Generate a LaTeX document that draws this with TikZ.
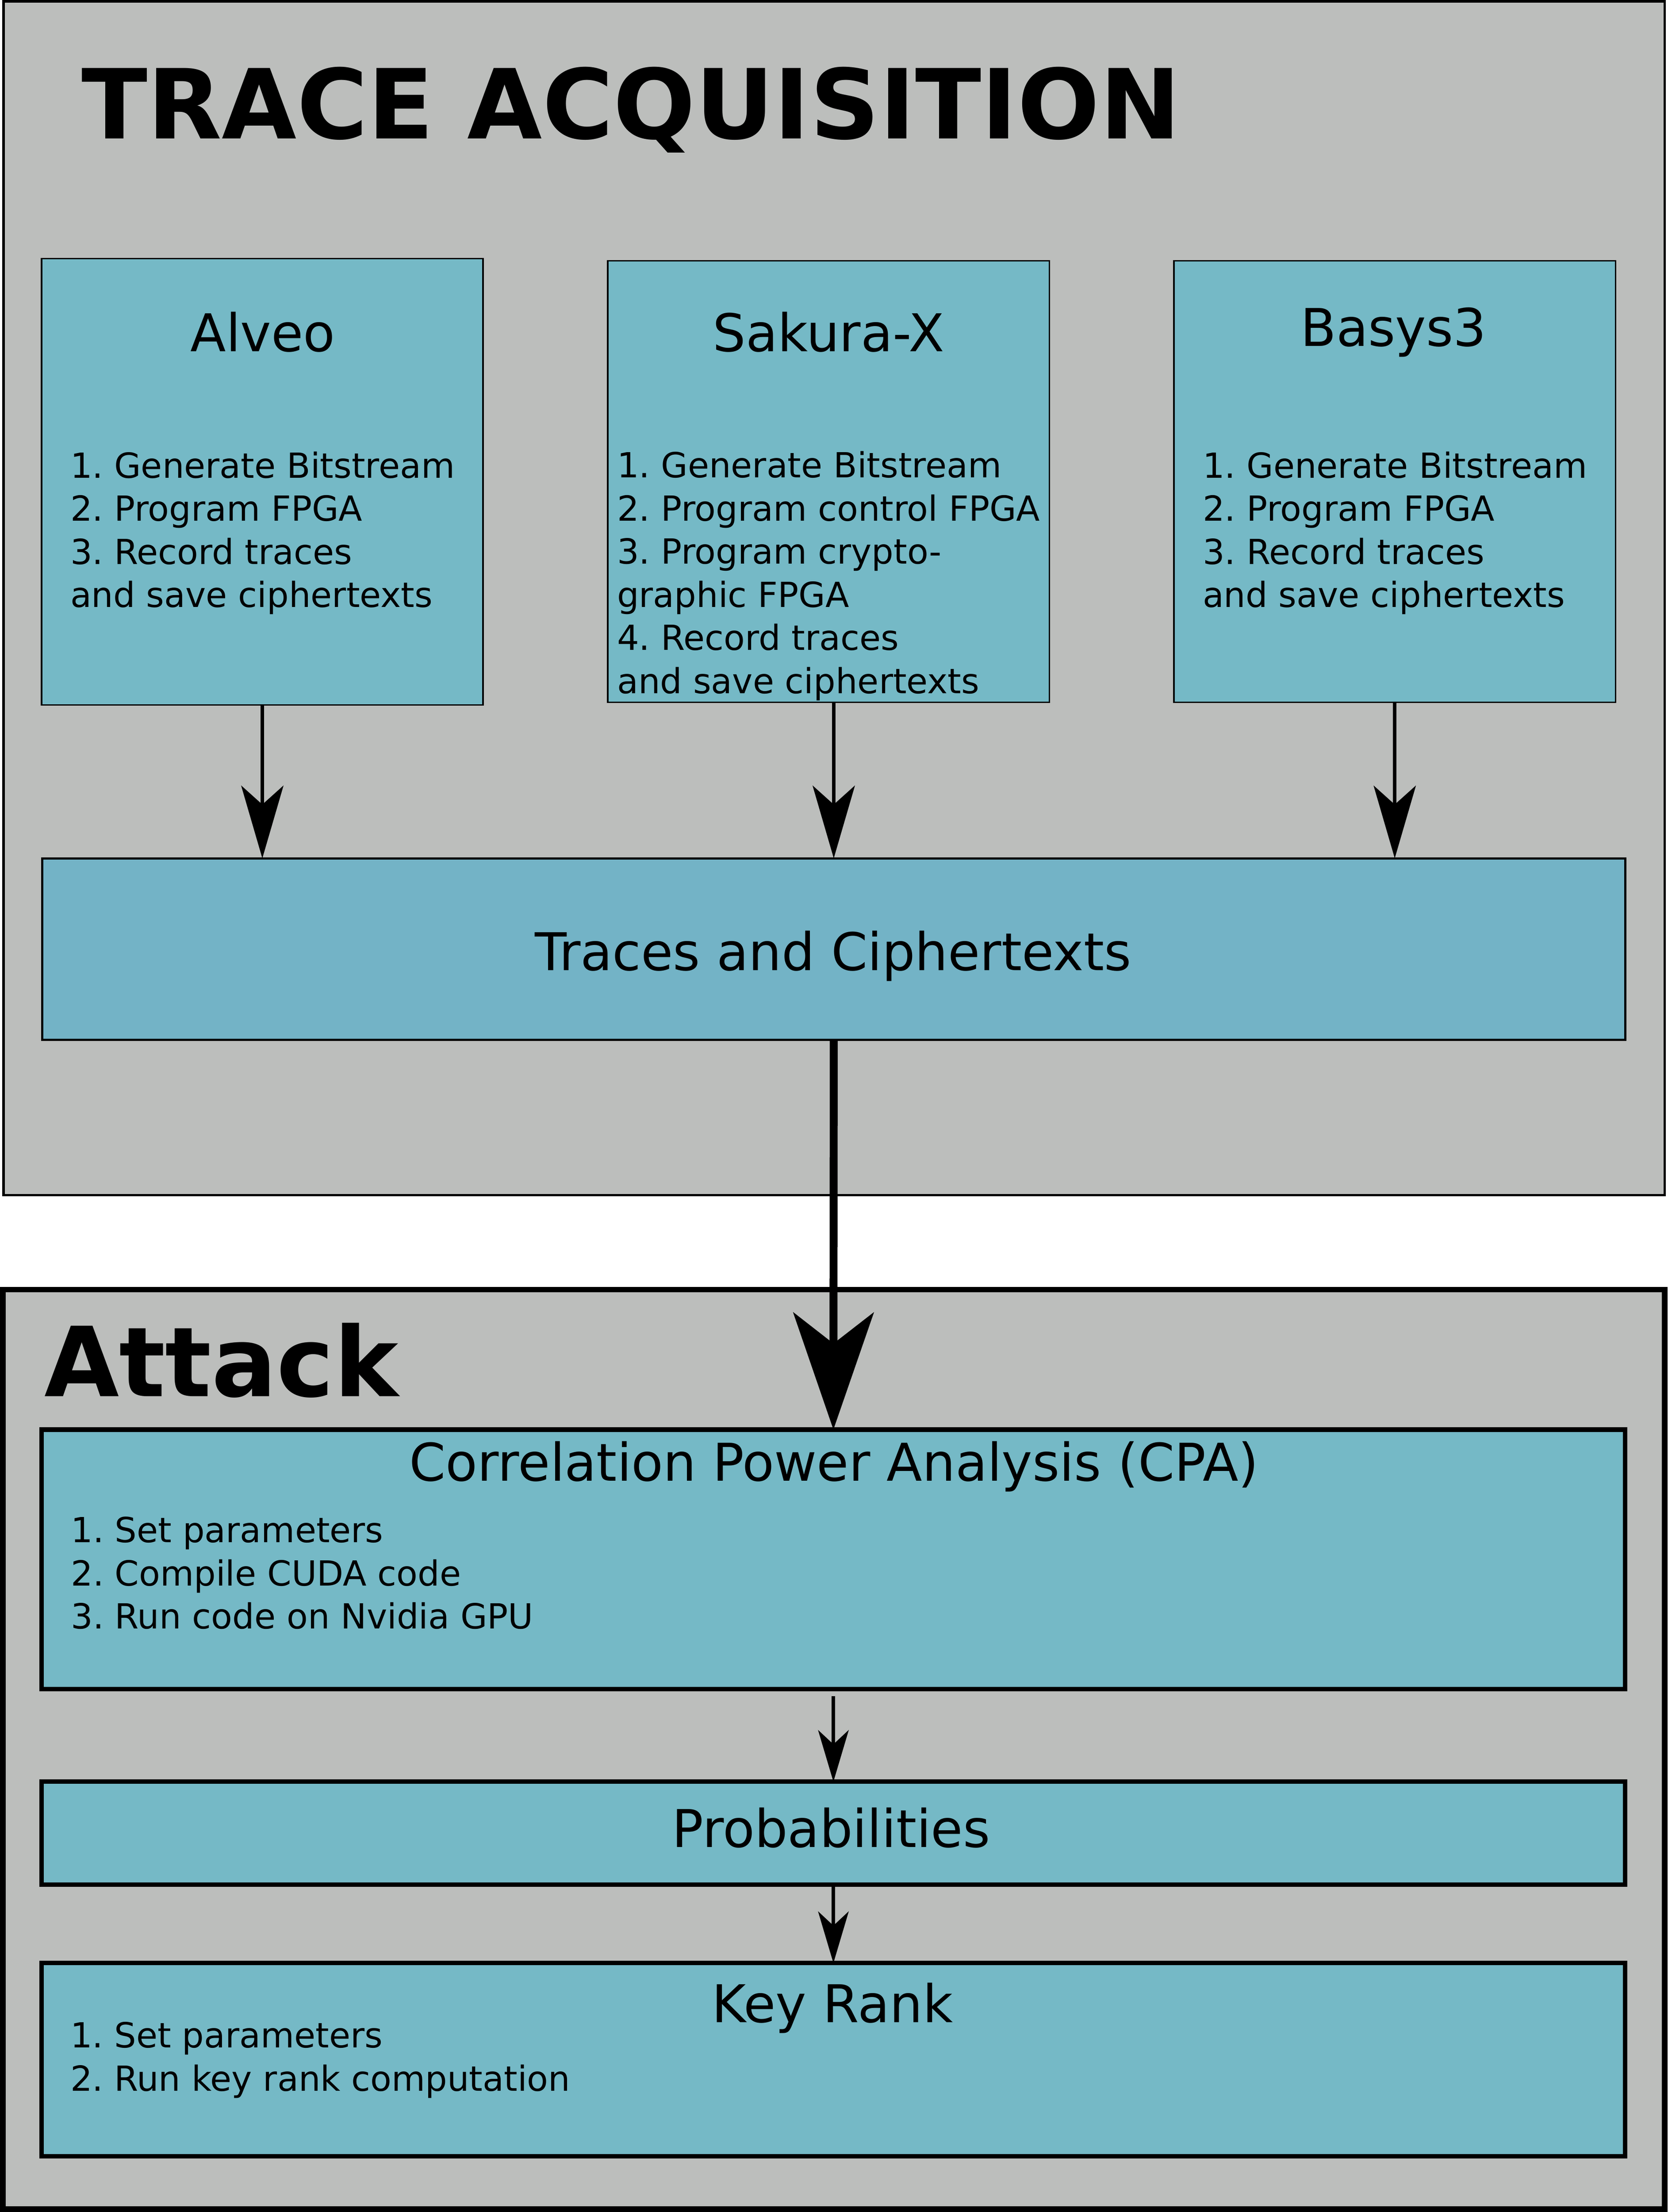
\documentclass[tikz,border=0pt]{standalone}
\usepackage{fontspec}
\setmainfont{DejaVu Sans}
\usepackage{xcolor}
\usepackage{tikz}
\usetikzlibrary{arrows.meta}
\definecolor{panelgrey}{RGB}{188,190,188}
\definecolor{boardteal}{RGB}{117,185,198}
\definecolor{tracesteal}{RGB}{115,179,198}
\tikzset{>=Stealth}

\begin{document}
\frenchspacing
\begin{tikzpicture}[x=0.02cm, y=-0.02cm]
\tikzset{panel/.style={draw=black, fill=panelgrey, anchor=north west, inner sep=0pt, outer sep=0pt}}
\tikzset{board/.style={draw=black, line width=0.6pt, fill=boardteal, anchor=north west, inner sep=0pt, outer sep=0pt, minimum width=6.26cm, minimum height=6.262cm}}
\tikzset{stage/.style={draw=black, line width=1.8pt, fill=boardteal, anchor=north west, inner sep=0pt, outer sep=0pt, minimum width=22.45cm}}
\tikzset{paneltitle/.style={anchor=base west, inner sep=0pt, font=\fontsize{39}{47}\selectfont\bfseries}}
\tikzset{boxtitle/.style={anchor=base, inner sep=0pt, font=\fontsize{21}{25}\selectfont}}
% anchor is the baseline of the last line
\tikzset{steplist/.style={anchor=base west, inner sep=0pt, align=left, font=\fontsize{13.95}{17.4}\selectfont}}
\tikzset{feed/.style={->, line width=1.5pt, >={Stealth[length=29.3pt, width=17pt, inset=7.6pt]}}}
\tikzset{handover/.style={->, line width=3.2pt, >={Stealth[length=47.2pt, width=32.4pt, inset=12.5pt]}}}
\tikzset{stagearrow/.style={->, line width=1.4pt, >={Stealth[length=20.8pt, width=12.3pt, inset=5.7pt]}}}

    \fill[white] (0,0) rectangle (1182,1567.4);
    \useasboundingbox (0,0) rectangle (1182,1567.4);

% % % % % % % % % % % % % % % % % % %
    \node[panel, line width=1pt, minimum width=23.55cm, minimum height=16.92cm] (acq) at (2.5,1) {};
    \node[paneltitle] (acqtitle) at (57.5,98.4) {TRACE ACQUISITION};

    \node[board, minimum width=6.258cm, minimum height=6.326cm] (alveo) at (29.5,183.2) {};
    \node[board] (sakura) at (430.7,184.7) {};
    \node[board] (basys) at (832,184.7) {};

    \node[boxtitle] (alveotitle) at (186.3,249.2) {Alveo};
    \node[boxtitle] (sakuratitle) at (587.3,249.2) {Sakura-X};
    \node[boxtitle] (basystitle) at (987.6,245.4) {Basys3};

    \node[steplist] (alveolist) at (49.5,430.3) {1. Generate Bitstream\\2. Program FPGA\\3. Record traces\\and save ciphertexts};
    \node[steplist] (sakuralist) at (437,491.3) {1. Generate Bitstream\\2. Program control FPGA\\3. Program crypto-\\graphic FPGA\\4. Record traces\\and save ciphertexts};
    \node[steplist] (basyslist) at (852,430.3) {1. Generate Bitstream\\2. Program FPGA\\3. Record traces\\and save ciphertexts};

    \node[board, fill=tracesteal, line width=0.9pt, minimum width=22.44cm, minimum height=2.576cm] (traces) at (30,608.2) {};
    \node[boxtitle] (tracestext) at (590.5,687.5) {Traces and Ciphertexts};

    \draw[feed] (alveo.south) -- (alveo.south |- traces.north);
    \draw[feed] (sakura.south -| traces.north) -- (traces.north);
    \draw[feed] (basys.south) -- (basys.south |- traces.north);

% % % % % % % % % % % % % % % % % % %
    \node[panel, line width=2.2pt, minimum width=23.56cm, minimum height=13.036cm] (attack) at (2,913.7) {};
    \node[paneltitle] (attacktitle) at (31,989.6) {Attack};

    \node[stage, minimum height=3.68cm] (cpa) at (29.5,1013) {};
    \node[boxtitle] (cpatitle) at (591,1049.5) {Correlation Power Analysis (CPA)};
    \node[steplist] (cpalist) at (50,1154.1) {1. Set parameters\\2. Compile CUDA code\\3. Run code on Nvidia GPU};

    \node[stage, minimum height=1.46cm] (prob) at (29.5,1262.5) {};
    \node[boxtitle] (probtext) at (589,1309) {Probabilities};

    \node[stage, minimum height=2.74cm] (keyrank) at (29.5,1391) {};
    \node[boxtitle] (keyranktitle) at (590,1433) {Key Rank};
    \node[steplist] (keyranklist) at (49.5,1481.5) {1. Set parameters\\2. Run key rank computation};

    \draw[handover] (traces.south) -- (cpa.north);
    \draw[stagearrow, shorten <=2.8pt] (cpa.south) -- (prob.north);
    \draw[stagearrow] (prob.south) -- (keyrank.north);

\end{tikzpicture}
\end{document}
